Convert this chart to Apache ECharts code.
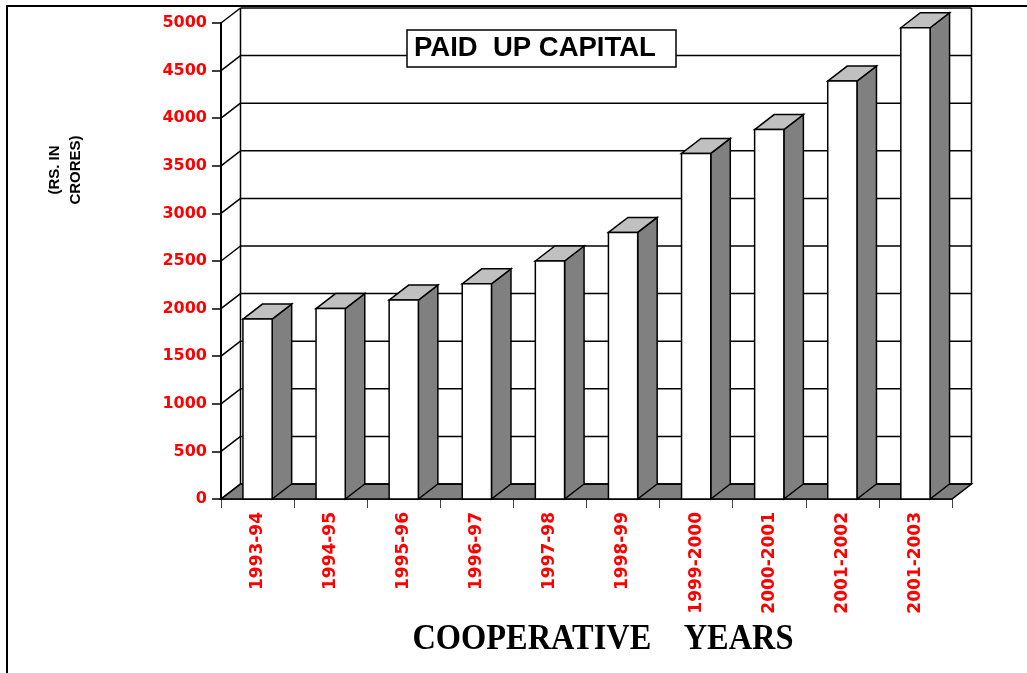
<!DOCTYPE html>
<html>
<head>
<meta charset="utf-8">
<title>Paid Up Capital</title>
<script src="https://cdn.jsdelivr.net/npm/echarts@6/dist/echarts.min.js"></script>
<style>
  html, body { margin: 0; padding: 0; background: #fff; }
  #chart { width: 1027px; height: 673px; }
</style>
</head>
<body>
<div id="chart"></div>
<script>
const categories = ['1993-94', '1994-95', '1995-96', '1996-97', '1997-98', '1998-99', '1999-2000', '2000-2001', '2001-2002', '2001-2003']
const paidUpCapital = [1890, 2000, 2090, 2260, 2500, 2800, 3630, 3880, 4390, 4950]
const yTicks = [0, 500, 1000, 1500, 2000, 2500, 3000, 3500, 4000, 4500, 5000]

// fake 3d depth, in pixels
const DX = 19.5
const DY = -15

const chart = echarts.init(document.getElementById('chart'))

function renderWall(params, api) {
  const cs = params.coordSys
  const left = cs.x
  const right = cs.x + cs.width
  const y = api.coord([0, api.value(0)])[1]
  const line = (x1, y1, x2, y2) => ({
    type: 'line',
    shape: { x1, y1, x2, y2 },
    style: { stroke: '#000', lineWidth: 1.5 },
  })
  const children = []
  if (params.dataIndex === 0) {
    const yTop = api.coord([0, yTicks[yTicks.length - 1]])[1]
    children.push({
      type: 'polygon',
      shape: { points: [[left, y], [right, y], [right + DX, y + DY], [left + DX, y + DY]] },
      style: { fill: '#808080', stroke: '#000', lineWidth: 1.5 },
    })
    children.push(line(left + DX, y + DY, left + DX, yTop + DY))
    children.push(line(right + DX, y + DY, right + DX, yTop + DY))
  }
  children.push(line(left, y, left + DX, y + DY))
  children.push(line(left + DX, y + DY, right + DX, y + DY))
  return { type: 'group', children }
}

function renderBar(params, api) {
  const base = api.coord([api.value(0), 0])
  const top = api.coord([api.value(0), api.value(1)])
  const bw = api.size([1, 0])[0] * 0.4
  const x0 = top[0] - bw / 2
  const x1 = x0 + bw
  const edge = { stroke: '#000', lineWidth: 1.5, lineJoin: 'miter' }
  return {
    type: 'group',
    children: [
      {
        type: 'polygon',
        shape: { points: [[x1, top[1]], [x1 + DX, top[1] + DY], [x1 + DX, base[1] + DY], [x1, base[1]]] },
        style: Object.assign({ fill: '#808080' }, edge),
      },
      {
        type: 'polygon',
        shape: { points: [[x0, top[1]], [x0 + DX, top[1] + DY], [x1 + DX, top[1] + DY], [x1, top[1]]] },
        style: Object.assign({ fill: '#c0c0c0' }, edge),
      },
      {
        type: 'rect',
        shape: { x: x0, y: top[1], width: bw, height: base[1] - top[1] },
        style: Object.assign({ fill: '#fff' }, edge),
      },
    ],
  }
}

chart.setOption({
  animation: false,
  backgroundColor: '#fff',
  title: {
    text: 'PAID  UP CAPITAL',
    left: 407,
    top: 30,
    backgroundColor: '#fff',
    borderColor: '#000',
    borderWidth: 1.5,
    padding: [3, 20, 3, 7],
    textStyle: { fontFamily: 'Liberation Sans', fontWeight: 'bold', fontSize: 27.5, lineHeight: 31, color: '#000' },
  },
  graphic: [
    {
      type: 'rect',
      shape: { x: 7, y: 6, width: 1200, height: 900 },
      style: { fill: 'none', stroke: '#000', lineWidth: 2 },
      silent: true,
    },
    {
      type: 'text',
      x: 65,
      y: 170,
      rotation: Math.PI / 2,
      style: {
        text: '(RS. IN\nCRORES)',
        font: 'bold 15px "Liberation Sans"',
        lineHeight: 21,
        align: 'center',
        verticalAlign: 'middle',
        fill: '#000',
      },
    },
    {
      type: 'text',
      x: 603,
      y: 640,
      scaleX: 0.9,
      style: {
        text: 'COOPERATIVE    YEARS',
        font: 'bold 36px "Liberation Serif"',
        align: 'center',
        verticalAlign: 'middle',
        fill: '#000',
      },
    },
  ],
  grid: { left: 221, right: 75, top: 23, bottom: 174 },
  xAxis: {
    type: 'category',
    data: categories,
    axisLine: { lineStyle: { color: '#000', width: 1.5 } },
    axisTick: { show: true, length: 9, lineStyle: { color: '#444', width: 1 } },
    axisLabel: {
      rotate: 90,
      margin: 13,
      color: '#ff0000',
      fontFamily: 'DejaVu Sans',
      fontWeight: 'bold',
      fontSize: 17,
    },
  },
  yAxis: {
    type: 'value',
    min: 0,
    max: 5000,
    interval: 500,
    axisLine: { show: true, lineStyle: { color: '#000', width: 2 } },
    axisTick: { show: true, length: 9, lineStyle: { color: '#000', width: 1.5 } },
    axisLabel: {
      margin: 14,
      color: '#ff0000',
      fontFamily: 'DejaVu Sans',
      fontWeight: 'bold',
      fontSize: 16,
      formatter: v => String(v),
    },
    splitLine: { show: false },
  },
  series: [
    {
      type: 'custom',
      name: 'wall',
      renderItem: renderWall,
      data: yTicks.map(v => [v]),
      encode: { y: 0 },
      silent: true,
      z: 1,
    },
    {
      type: 'custom',
      name: 'Paid up capital',
      renderItem: renderBar,
      data: paidUpCapital.map((v, i) => [i, v]),
      encode: { x: 0, y: 1 },
      z: 3,
    },
  ],
})
</script>
</body>
</html>
